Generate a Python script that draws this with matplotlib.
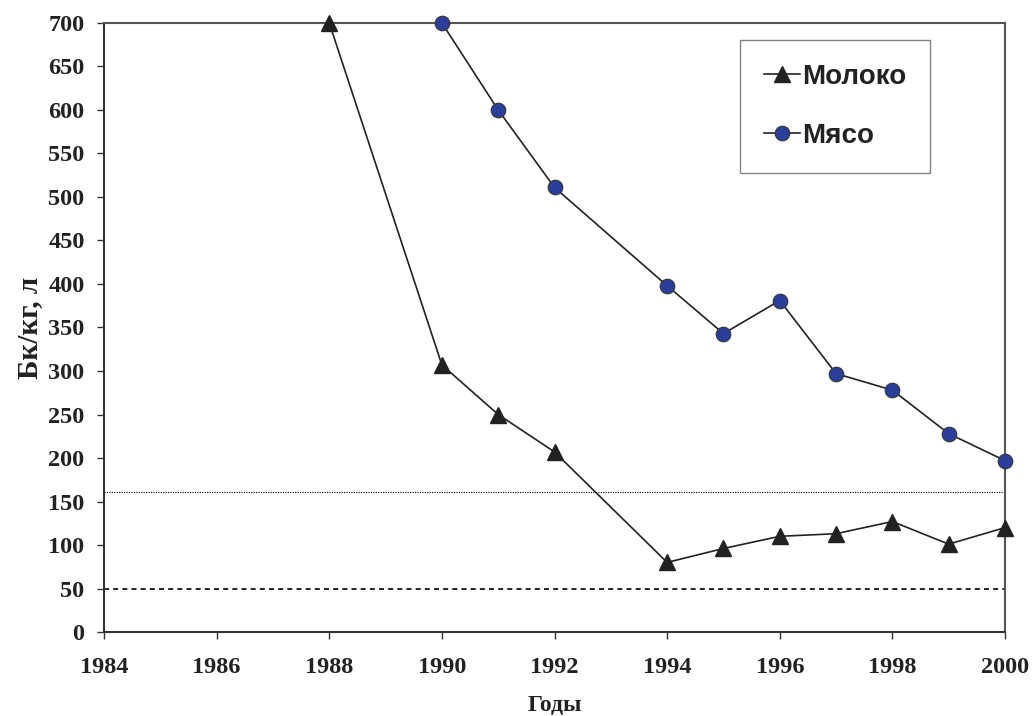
import matplotlib
matplotlib.use("Agg")
import matplotlib.pyplot as plt

# data
milk_years = [1988, 1990, 1991, 1992, 1994, 1995, 1996, 1997, 1998, 1999, 2000]
milk_values = [700, 307, 250, 207, 80, 96, 110, 113, 127, 101, 120]
meat_years = [1990, 1991, 1992, 1994, 1995, 1996, 1997, 1998, 1999, 2000]
meat_values = [700, 600, 511, 398, 343, 381, 297, 278, 228, 197]
dotted_level = 161
dashed_level = 50
x_ticks = list(range(1984, 2001, 2))
y_ticks = list(range(0, 701, 50))

serif = "Liberation Serif"
sans = "Liberation Sans"

fig = plt.figure(figsize=(10.33, 7.16), dpi=100)
ax = fig.add_axes([0.1007, 0.1173, 0.8722, 0.8506])

ax.axhline(dotted_level, color="black", linestyle=(0, (1, 1.2)), linewidth=0.8)
ax.axhline(dashed_level, color="black", linestyle=(0, (3, 2.5)), linewidth=1.2)

ax.plot(milk_years, milk_values, color="#222222", linewidth=1.2,
        marker="^", markersize=11, markerfacecolor="#222222",
        markeredgecolor="#222222", label="Молоко", clip_on=False, zorder=3)
ax.plot(meat_years, meat_values, color="#222222", linewidth=1.2,
        marker="o", markersize=10.5, markerfacecolor="#2B3F9A",
        markeredgecolor="#333333", markeredgewidth=0.8,
        label="Мясо", clip_on=False, zorder=3)

ax.set_xlim(1984, 2000)
ax.set_ylim(0, 700)
ax.set_xticks(x_ticks)
ax.set_yticks(y_ticks)
ax.tick_params(direction="out", length=5, width=1, color="#333333")
ax.tick_params(axis="x", pad=13)
ax.tick_params(axis="y", pad=9)

for lab in ax.get_xticklabels() + ax.get_yticklabels():
    lab.set_fontfamily(serif)
    lab.set_fontweight("bold")
    lab.set_fontsize(17.5)
    lab.set_color("#222222")

for side in ["left", "bottom"]:
    ax.spines[side].set_color("#333333")
    ax.spines[side].set_linewidth(1.5)
for side in ["top", "right"]:
    ax.spines[side].set_color("#555555")
    ax.spines[side].set_linewidth(1.5)

ax.set_xlabel("Годы", fontfamily=serif, fontweight="bold", fontsize=17,
              color="#222222", labelpad=12)
ax.set_ylabel("Бк/кг, л", fontfamily=serif, fontweight="bold", fontsize=21,
              color="#222222", labelpad=4)

leg = ax.legend(loc="upper left", bbox_to_anchor=(0.706, 0.972),
                prop={"family": sans, "weight": "bold", "size": 20},
                frameon=True, fancybox=False, edgecolor="#666666",
                handlelength=1.3, handletextpad=0.1, labelspacing=1.2,
                borderpad=0.85, borderaxespad=0)
leg.get_frame().set_linewidth(1.0)
for t in leg.get_texts():
    t.set_color("#222222")

fig.savefig("out.png", dpi=100)
